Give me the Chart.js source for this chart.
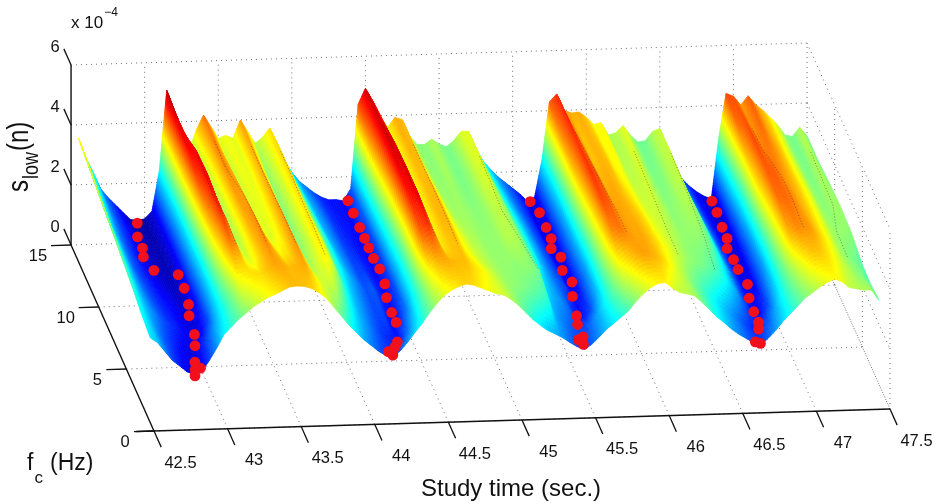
<!DOCTYPE html>
<html>
<head>
<meta charset="utf-8">
<style>
  html, body { margin: 0; padding: 0; background: #fff; }
  canvas { display: block; }
</style>
<script src="https://cdn.jsdelivr.net/npm/chart.js@4"></script>
</head>
<body>
<canvas id="mainChart" width="937" height="504"></canvas>
<script>
'use strict';

// ── ticks ──
const timeTicks = [42.5, 43, 43.5, 44, 44.5, 45, 45.5, 46, 46.5, 47, 47.5];
const freqTicks = [0, 5, 10, 15];
const heightTicks = [0, 2, 4, 6];

// ── surface samples (slow, x 1e-4), one list per fc row, back to front ──
const times = [
  42.55, 42.60, 42.65, 42.70, 42.75, 42.80, 42.85, 42.90, 42.95, 43.00, 43.05, 43.10, 43.15, 43.20, 43.25, 43.30, 43.35,
  43.40, 43.45, 43.50, 43.55, 43.60, 43.65, 43.70, 43.75, 43.80, 43.85, 43.90, 43.95, 44.00, 44.05, 44.10, 44.15, 44.20,
  44.25, 44.30, 44.35, 44.40, 44.45, 44.50, 44.55, 44.60, 44.65, 44.70, 44.75, 44.80, 44.85, 44.90, 44.95, 45.00, 45.05,
  45.10, 45.15, 45.20, 45.25, 45.30, 45.35, 45.40, 45.45, 45.50,
  45.55, 45.60, 45.65, 45.70, 45.75, 45.80, 45.85, 45.90, 45.95, 46.00, 46.05, 46.10, 46.15, 46.20, 46.25, 46.30, 46.35,
  46.40, 46.45, 46.50, 46.55, 46.60, 46.65, 46.70, 46.75,
  46.80, 46.85, 46.90, 46.95, 47.00, 47.05, 47.10, 47.15, 47.20, 47.25, 47.30, 47.35, 47.40, 47.45, 47.50
];
const freqs = [15, 13, 11, 9, 7, 5, 3.5, 2];

const slow15 = [
  3.57, 2.9, 2.4, 1.85, 1.55, 1.3, 1.05, .8, .75, .8, 1.05, 2.4, 5.07, 4.3, 3.6, 3.0, 3.7, 4.2, 3.8, 3.4, 3.5, 3.4, 4.0, 3.6, 3.2, 3.4, 3.7, 3.2, 2.6, 2.2, 1.9, 1.7, 1.5, 1.35,
  1.25, 1.25, 1.2, 1.6, 4.4, 4.93, 4.5, 4.0, 3.6, 3.93, 3.85, 3.3, 3.0, 3.0, 3.17, 3.0, 2.9, 3.1, 3.4, 3.4, 2.8, 2.38, 2.1, 1.85, 1.65, 1.45,
  1.25, 1.0, 1.15, 2.4, 4.3, 4.55, 4.0, 3.9, 3.93, 3.75, 3.5, 3.55, 3.13, 3.2, 3.43, 3.1, 2.87, 2.9, 3.2, 3.3, 2.5, 2.0, 1.6, 1.35, 1.15,
  1.0, .9, 2.9, 4.4, 4.3, 4.0, 4.3, 4.0, 3.8, 3.55, 3.3, 2.95, 2.9, 3.2, 2.9
];
const slow13 = [
  3.4, 2.7, 2.2, 1.8, 1.5, 1.3, 1.1, .9, .85, .85, 1.1, 2.3, 4.9, 4.4, 3.5, 2.9, 3.5, 4.15, 3.8, 3.3, 3.5, 3.4, 3.95, 3.5, 3.05, 3.35, 3.75, 3.2, 2.7, 2.3, 2.0, 1.8, 1.6, 1.4,
  1.3, 1.25, 1.2, 1.6, 4.0, 4.95, 4.6, 4.0, 3.5, 3.9, 3.85, 3.3, 3.05, 3.0, 3.15, 3.0, 2.9, 3.05, 3.35, 3.4, 2.9, 2.5, 2.2, 1.95, 1.7, 1.5,
  1.3, 1.05, 1.15, 2.2, 4.1, 4.55, 4.1, 3.8, 3.9, 3.8, 3.55, 3.55, 3.2, 3.2, 3.4, 3.1, 2.9, 2.95, 3.2, 3.3, 2.6, 2.1, 1.7, 1.4, 1.2,
  1.0, .95, 2.5, 4.2, 4.35, 4.05, 4.25, 4.0, 3.8, 3.55, 3.3, 3.0, 2.9, 3.2, 2.9
];
const slow11 = [
  3.2, 2.5, 2.05, 1.7, 1.45, 1.25, 1.1, .95, .9, .85, 1.1, 2.2, 4.7, 4.7, 3.7, 2.9, 3.4, 4.1, 3.9, 3.3, 3.45, 3.45, 3.95, 3.45, 3.0, 3.3, 3.75, 3.2, 2.8, 2.4, 2.05, 1.85, 1.65, 1.45,
  1.35, 1.25, 1.2, 1.5, 3.5, 4.95, 4.75, 4.0, 3.5, 3.85, 3.85, 3.4, 3.1, 3.05, 3.1, 3.0, 2.95, 3.05, 3.3, 3.35, 3.0, 2.6, 2.3, 2.05, 1.8, 1.55,
  1.35, 1.1, 1.15, 2.0, 3.9, 4.5, 4.2, 3.8, 3.9, 3.85, 3.6, 3.5, 3.25, 3.25, 3.35, 3.1, 2.95, 3.0, 3.2, 3.25, 2.7, 2.2, 1.8, 1.5, 1.25,
  1.05, 1.0, 2.1, 3.8, 4.4, 4.15, 4.15, 4.0, 3.8, 3.55, 3.35, 3.05, 2.95, 3.15, 3.0
];
const slow9 = [
  3.0, 2.4, 2.0, 1.65, 1.45, 1.3, 1.15, 1.05, .95, .9, 1.2, 2.2, 4.3, 4.75, 3.9, 3.0, 3.3, 4.0, 4.0, 3.4, 3.4, 3.5, 4.0, 3.4, 2.95, 3.3, 3.7, 3.2, 2.85, 2.5, 2.15, 1.9, 1.7, 1.5,
  1.45, 1.3, 1.2, 1.45, 3.0, 4.85, 4.8, 4.1, 3.5, 3.85, 3.9, 3.5, 3.2, 3.1, 3.1, 3.05, 3.0, 3.05, 3.2, 3.25, 3.05, 2.7, 2.4, 2.1, 1.85, 1.6,
  1.4, 1.15, 1.2, 2.0, 3.6, 4.5, 4.3, 3.9, 3.95, 3.85, 3.7, 3.55, 3.35, 3.3, 3.3, 3.15, 3.0, 3.05, 3.15, 3.15, 2.8, 2.3, 1.9, 1.55, 1.3,
  1.05, 1.1, 1.9, 3.6, 4.3, 4.3, 4.1, 3.95, 3.8, 3.6, 3.4, 3.1, 3.0, 3.1, 3.05
];
const slow7 = [
  2.8, 2.3, 1.95, 1.7, 1.5, 1.35, 1.25, 1.15, 1.05, .95, 1.25, 2.2, 3.8, 4.6, 4.1, 3.2, 3.25, 3.9, 4.1, 3.6, 3.35, 3.55, 4.05, 3.45, 2.95, 3.25, 3.7, 3.3, 2.85, 2.5, 2.2, 1.95, 1.75, 1.55,
  1.6, 1.35, 1.2, 1.5, 2.7, 4.6, 4.8, 4.2, 3.55, 3.85, 3.9, 3.55, 3.35, 3.2, 3.15, 3.05, 3.05, 3.05, 3.2, 3.2, 3.1, 2.75, 2.45, 2.1, 1.85, 1.65,
  1.5, 1.2, 1.25, 1.9, 3.3, 4.4, 4.3, 4.0, 3.95, 3.9, 3.8, 3.65, 3.45, 3.35, 3.25, 3.15, 3.05, 3.05, 3.05, 3.0, 2.75, 2.35, 1.95, 1.6, 1.3,
  1.1, 1.2, 1.9, 3.2, 4.2, 4.25, 4.15, 3.95, 3.8, 3.6, 3.4, 3.15, 3.05, 3.05, 3.0
];
const slow5 = [
  2.6, 2.2, 1.95, 1.75, 1.55, 1.4, 1.3, 1.15, 1.05, 1.1, 1.5, 2.3, 3.3, 4.2, 4.0, 3.5, 3.4, 3.8, 4.1, 3.85, 3.6, 3.7, 4.05, 3.6, 3.1, 3.35, 3.6, 3.3, 2.8, 2.35, 2.05, 1.85, 1.65, 1.5,
  1.5, 1.2, 1.3, 1.75, 2.7, 4.3, 4.5, 4.1, 3.65, 3.8, 3.85, 3.6, 3.45, 3.3, 3.2, 3.1, 3.05, 3.05, 3.0, 3.05, 3.0, 2.9, 2.2, 2.0, 1.85, 1.65,
  1.3, 1.25, 1.5, 2.1, 3.1, 4.05, 4.2, 4.05, 3.95, 3.95, 3.85, 3.7, 3.55, 3.4, 3.25, 3.1, 3.0, 2.95, 2.85, 2.7, 2.5, 2.2, 1.9, 1.55, 1.25,
  1.2, 1.5, 2.15, 3.0, 3.9, 4.1, 4.05, 4.0, 3.8, 3.6, 3.4, 3.15, 3.0, 2.9, 2.75
];
const slow35 = [
  2.4, 2.15, 1.85, 1.6, 1.4, 1.25, 1.1, 1.05, 1.25, 1.6, 2.0, 2.4, 2.85, 3.5, 3.6, 3.7, 3.7, 3.85, 3.95, 3.95, 3.85, 3.9, 3.95, 3.7, 3.4, 3.3, 3.3, 2.9, 2.5, 2.2, 1.95, 1.75, 1.55, 1.4,
  1.3, 1.3, 1.7, 2.2, 2.75, 3.5, 3.85, 3.95, 3.9, 3.85, 3.85, 3.7, 3.6, 3.45, 3.3, 3.15, 3.05, 3.0, 2.95, 2.85, 2.75, 2.6, 2.0, 1.8, 1.65, 1.55,
  1.5, 1.7, 2.0, 2.4, 2.85, 3.4, 3.65, 3.9, 4.0, 3.95, 3.85, 3.7, 3.5, 3.3, 3.1, 2.9, 2.7, 2.5, 2.3, 2.1, 1.9, 1.7, 1.5, 1.35, 1.4,
  1.6, 1.95, 2.4, 2.85, 3.25, 3.6, 3.8, 3.8, 3.7, 3.55, 3.35, 3.2, 3.05, 2.95, 2.7
];
const slow2 = [
  2.27, 2.1, 1.8, 1.5, 1.3, 1.1, 1.0, 1.1, 1.45, 1.85, 2.3, 2.55, 2.8, 3.0, 3.2, 3.35, 3.5, 3.6, 3.72, 3.83, 3.85, 3.83, 3.75, 3.6, 3.4, 3.1, 2.8, 2.5, 2.25, 2.0, 1.8, 1.6, 1.45, 1.38,
  1.6, 1.88, 2.2, 2.5, 2.85, 3.15, 3.4, 3.57, 3.68, 3.75, 3.7, 3.6, 3.5, 3.4, 3.35, 3.2, 3.0, 2.75, 2.5, 2.3, 2.12, 2.0, 1.87, 1.7, 1.55, 1.45,
  1.62, 1.85, 2.1, 2.3, 2.5, 2.7, 3.0, 3.25, 3.45, 3.58, 3.6, 3.4, 3.25, 3.2, 3.12, 2.9, 2.65, 2.4, 2.2, 1.98, 1.8, 1.65, 1.5, 1.43, 1.65,
  1.9, 2.2, 2.45, 2.7, 2.95, 3.12, 3.3, 3.45, 3.55, 3.45, 3.25, 3.2, 3.15, 3.15, 2.8
];
const slowRows = [slow15, slow13, slow11, slow9, slow7, slow5, slow35, slow2];

// ── crest times of the ridges, for rows 13, 11, 9, 7, 5 ──
const creaseTimes = [
  [43.20, 43.20, 43.25, 43.25, 43.25],
  [43.40, 43.40, 43.45, 43.45, 43.45],
  [43.65, 43.65, 43.65, 43.65, 43.65],
  [43.85, 43.85, 43.85, 43.85, 43.85],
  [44.55, 44.55, 44.60, 44.60, 44.60],
  [44.75, 44.75, 44.75, 44.75, 44.75],
  [45.20, 45.20, 45.20, 45.25, 45.30],
  [45.85, 45.85, 45.85, 45.90, 45.90],
  [46.25, 46.25, 46.25, 46.25, 46.25],
  [46.50, 46.50, 46.50, 46.50, 46.50],
  [47.05, 47.05, 47.10, 47.10, 47.10],
  [47.45, 47.45, 47.45, 47.40, 47.40],
];

// ── red markers: valley of each cycle ──
const dotTimes = [
  42.92, 42.88, 42.88, 42.86, 42.89, 43.04, 43.04, 43.02, 42.99, 42.97, 42.94, 42.89, 42.91, 42.87, 42.85,
  44.38, 44.38, 44.38, 44.38, 44.38, 44.38, 44.39, 44.38, 44.35, 44.34, 44.34, 44.29, 44.26, 44.20, 44.22,
  45.60, 45.63, 45.63, 45.63, 45.60, 45.64, 45.61, 45.64, 45.60, 45.57, 45.55, 45.55, 45.51, 45.53,
  46.82, 46.82, 46.81, 46.81, 46.78, 46.79, 46.79, 46.81, 46.78, 46.77, 46.77, 46.75, 46.69, 46.72
];
const dotFreqs = [
  14.2, 13.1, 12.2, 11.5, 10.4, 10.0, 8.9, 7.6, 6.7, 5.2, 4.3, 3.0, 2.5, 2.4, 1.9,
  15.0, 14.0, 12.85, 11.96, 11.2, 10.35, 9.5, 8.3, 7.2, 6.0, 5.2, 3.65, 3.25, 2.9, 2.6,
  14.5, 13.6, 12.4, 11.5, 10.7, 10.0, 8.95, 8.0, 6.85, 5.3, 4.6, 3.6, 3.4, 3.0,
  14.1, 13.2, 12.0, 11.1, 10.3, 9.4, 8.6, 7.4, 6.3, 5.2, 4.35, 3.8, 2.8, 2.66
];
const dotHeights = [
  1, 1, 1, 1, 1, 1, 1, 1, 1, 1, 1, 1, 1, 1, 1,
  1.2, 1.2, 1.2, 1.2, 1.2, 1.2, 1.2, 1.2, 1.2, 1.2, 1.2, 1.2, 1.2, 1.2, 1.2,
  1.2, 1.2, 1.2, 1.2, 1.2, 1.2, 1.2, 1.2, 1.2, 1.2, 1.2, 1.2, 1.2, 1.2,
  1.2, 1.2, 1.2, 1.2, 1.2, 1.2, 1.2, 1.2, 1.2, 1.2, 1.2, 1.2, 1.2, 1.2
];

// ── fixed oblique view, same as the axes box of the figure ──
function project(t, f, s) {
  return {
    x: 154 + (t - 42.5) * 147.2 - f * 5.53,
    y: 431 - (t - 42.5) * 4.4 - f * 12.4 - s * 30,
  };
}

// jet colormap
function jet(s) {
  const v = Math.min(1, Math.max(0, (s - 0.61) / 4.69));
  const ch = c => Math.round(255 * Math.min(1, Math.max(0, 1.5 - Math.abs(4 * v - c))));
  return `rgb(${ch(3)},${ch(2)},${ch(1)})`;
}

const datasets = [];
function addLine(points, color, width, dash, order) {
  datasets.push({
    data: points, showLine: true, pointRadius: 0, tension: 0,
    borderColor: color, borderWidth: width, borderDash: dash, order: order,
  });
}
const GRID = '#6f6f6f';
function gridLine(a, b) { addLine([project(...a), project(...b)], GRID, 1, [1, 4], 4); }

// ── dotted box grid ──
heightTicks.forEach(s => {
  gridLine([42.5, 15, s], [47.5, 15, s]);
  gridLine([47.5, 15, s], [47.5, 0, s]);
});
timeTicks.forEach(t => {
  if (t > 42.5) {
    gridLine([t, 0, 0], [t, 15, 0]);
    gridLine([t, 15, 0], [t, 15, 6]);
  }
});
freqTicks.forEach(f => {
  if (f < 15) {
    gridLine([42.5, f, 0], [47.5, f, 0]);
    gridLine([47.5, f, 0], [47.5, f, 6]);
  }
});

// ── surface: one dataset of mesh nodes, painted by the plugin below ──
const meshPoints = [];
freqs.forEach((f, r) => times.forEach((t, c) => meshPoints.push(project(t, f, slowRows[r][c]))));
datasets.push({ data: meshPoints, pointRadius: 0, showLine: false, order: 3, isSurface: true });

// ── thin dark creases along the ridges ──
creaseTimes.forEach(list => {
  const pts = list.map((t, i) => {
    const c = times.findIndex(v => Math.abs(v - t) < 0.001);
    return project(t, freqs[i + 1], slowRows[i + 1][c]);
  });
  addLine(pts, 'rgba(40,40,40,0.65)', 0.8, [1, 2], 2);
});

// ── black axes and ticks ──
const BLACK = '#111';
addLine([project(42.5 - 0.12, 0, 0), project(47.5, 0, 0)], BLACK, 1.4, [], 1);
addLine([project(42.5, 0, 0), project(42.5, 15, 0)], BLACK, 1.4, [], 1);
addLine([project(42.5, 15, 0), project(42.5, 15, 6)], BLACK, 1.4, [], 1);
timeTicks.forEach(t => addLine([project(t, 0, 0), project(t, -1.3, 0)], BLACK, 1.3, [], 1));
freqTicks.forEach(f => addLine([project(42.5, f, 0), project(42.5 - 0.136, f, 0)], BLACK, 1.3, [], 1));
heightTicks.forEach(s => addLine([project(42.5, 15, s), project(42.5, 16.3, s)], BLACK, 1.3, [], 1));

// ── red markers ──
datasets.push({
  data: dotTimes.map((t, i) => project(t, dotFreqs[i], dotHeights[i])),
  pointRadius: 5.4, pointBackgroundColor: '#f2101c', pointBorderWidth: 0, showLine: false, order: 0,
});

const surfacePlugin = {
  id: 'surface',
  afterDatasetDraw(chart, args) {
    if (!chart.data.datasets[args.index].isSurface) return;
    const ctx = chart.ctx;
    const nodes = args.meta.data;
    const nc = times.length;
    const SUB_F = 8;
    const at = (r, c) => nodes[r * nc + c];
    ctx.save();
    ctx.lineWidth = 0.7;
    // back to front, right to left
    for (let r = 0; r < freqs.length - 1; r++) {
      for (let c = nc - 2; c >= 0; c--) {
        const p00 = at(r, c), p01 = at(r, c + 1), p10 = at(r + 1, c), p11 = at(r + 1, c + 1);
        const z00 = slowRows[r][c], z01 = slowRows[r][c + 1], z10 = slowRows[r + 1][c], z11 = slowRows[r + 1][c + 1];
        const mix = (u, v, a, b, d, e) => (a * (1 - u) + b * u) * (1 - v) + (d * (1 - u) + e * u) * v;
        // steep cells get finer colour steps
        const rise = Math.max(Math.abs(z01 - z00), Math.abs(z11 - z10));
        const subT = Math.min(40, Math.max(3, Math.ceil(rise * 30 / 1.5)));
        for (let j = 0; j < SUB_F; j++) {
          for (let i = subT - 1; i >= 0; i--) {
            const u0 = i / subT, u1 = (i + 1) / subT, v0 = j / SUB_F, v1 = (j + 1) / SUB_F;
            const col = jet(mix((u0 + u1) / 2, (v0 + v1) / 2, z00, z01, z10, z11));
            ctx.fillStyle = col;
            ctx.strokeStyle = col;
            ctx.beginPath();
            ctx.moveTo(mix(u0, v0, p00.x, p01.x, p10.x, p11.x), mix(u0, v0, p00.y, p01.y, p10.y, p11.y));
            ctx.lineTo(mix(u1, v0, p00.x, p01.x, p10.x, p11.x), mix(u1, v0, p00.y, p01.y, p10.y, p11.y));
            ctx.lineTo(mix(u1, v1, p00.x, p01.x, p10.x, p11.x), mix(u1, v1, p00.y, p01.y, p10.y, p11.y));
            ctx.lineTo(mix(u0, v1, p00.x, p01.x, p10.x, p11.x), mix(u0, v1, p00.y, p01.y, p10.y, p11.y));
            ctx.closePath();
            ctx.fill();
            ctx.stroke();
          }
        }
      }
    }
    ctx.restore();
  },
};

const labelPlugin = {
  id: 'labels',
  afterDraw(chart) {
    const ctx = chart.ctx;
    const sx = chart.scales.x, sy = chart.scales.y;
    const put = (txt, x, y, size) => {
      ctx.font = `${size}px "Liberation Sans"`;
      ctx.fillText(txt, x, y);
      return ctx.measureText(txt).width;
    };
    ctx.save();
    ctx.fillStyle = '#111';
    ctx.textAlign = 'center';
    ctx.textBaseline = 'middle';
    timeTicks.forEach(t => {
      const p = project(t, 0, 0);
      put(String(t), sx.getPixelForValue(p.x) + 26.5, sy.getPixelForValue(p.y) + 32, 16.5);
    });
    freqTicks.forEach(f => {
      const p = project(42.5, f, 0);
      put(String(f), sx.getPixelForValue(p.x) - (f > 5 ? 33 : 29), sy.getPixelForValue(p.y) + 11, 16.5);
    });
    heightTicks.forEach(s => {
      const p = project(42.5, 15, s);
      put(String(s), sx.getPixelForValue(p.x) - 16, sy.getPixelForValue(p.y) - 18, 16.5);
    });
    ctx.textAlign = 'left';
    ctx.textBaseline = 'alphabetic';
    // exponent
    let w = put('x 10', 71, 27.5, 17);
    put('\u22124', 71 + w + 1, 15.5, 12);
    // fc (Hz)
    w = put('f', 27, 470, 23);
    put('c', 27 + w + 1, 483, 17);
    put('(Hz)', 50, 470, 23);
    // time label
    put('Study time (sec.)', 421, 496, 24);
    // vertical label
    ctx.translate(28, 192);
    ctx.rotate(-Math.PI / 2);
    ctx.scale(1, 1.2);
    w = put('s', 0, 0, 24);
    const w2 = put('low', w + 1, 8, 18);
    put('(n)', w + w2 + 2, 0, 24);
    ctx.restore();
  },
};

new Chart(document.getElementById('mainChart').getContext('2d'), {
  type: 'scatter',
  data: { datasets },
  options: {
    responsive: false,
    animation: false,
    events: [],
    layout: { padding: 0, autoPadding: false },
    plugins: { legend: { display: false }, tooltip: { enabled: false } },
    scales: {
      x: { type: 'linear', min: 0, max: 937, display: false },
      y: { type: 'linear', min: 0, max: 504, reverse: true, display: false },
    },
  },
  plugins: [surfacePlugin, labelPlugin],
});
</script>
</body>
</html>
